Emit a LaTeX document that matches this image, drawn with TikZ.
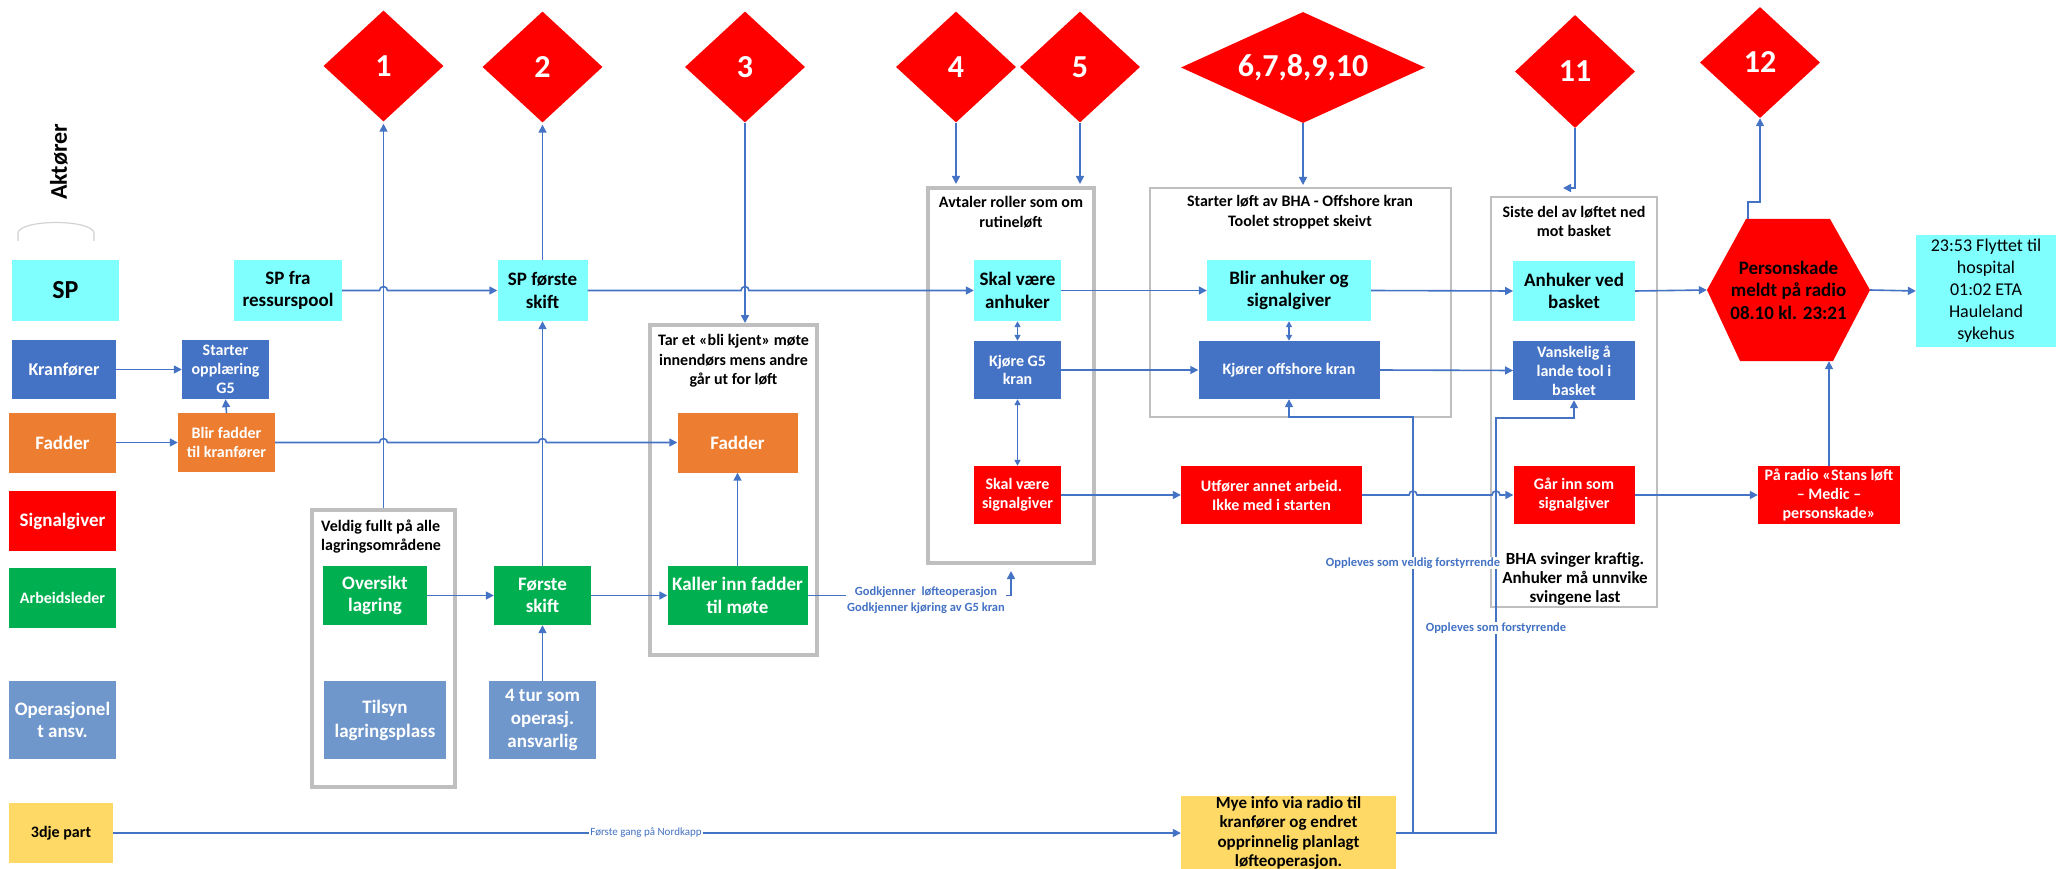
\documentclass[tikz,border=0pt]{standalone}
\usepackage{fontspec}
\setmainfont{Carlito}
\usetikzlibrary{shapes.geometric,arrows.meta,calc}
\definecolor{cy}{HTML}{80FFFF}
\definecolor{bl}{HTML}{4472C4}
\definecolor{orn}{HTML}{ED7D31}
\definecolor{rd}{HTML}{FF0000}
\definecolor{gr}{HTML}{00B050}
\definecolor{sb}{HTML}{6F97CB}
\definecolor{ye}{HTML}{FFD966}
\definecolor{gb}{HTML}{BFBFBF}
\newcommand\fsz[2]{\fontsize{#1}{#2}\selectfont}
\begin{document}
\begin{tikzpicture}[x=1pt,y=-1pt,
  bx/.style={rectangle,inner sep=0pt,align=center,font=\bfseries\fsz{19}{22.5}},
  sm/.style={font=\bfseries\fsz{16}{19}},
  wt/.style={text=white},
  dia/.style={shape=diamond,fill=rd,inner sep=0pt,text=white,font=\bfseries\fsz{32}{36},minimum width=120pt,minimum height=111pt},
  grp/.style={draw=gb,line width=4pt,rectangle,inner sep=0pt},
  grpt/.style={draw=gb,line width=2pt,rectangle,inner sep=0pt},
  ttl/.style={align=center,font=\bfseries\fsz{16}{19.5},inner sep=0pt},
  arr/.style={draw=bl,line width=1.6pt,-{Triangle[length=8pt,width=8pt]}},
  dbl/.style={draw=bl,line width=1.6pt,{Triangle[length=6pt,width=6pt]}-{Triangle[length=6pt,width=6pt]}},
  lbl/.style={text=bl,font=\bfseries\fsz{12.5}{16},align=center,fill=white,inner sep=1pt},
]
\useasboundingbox (0,0) rectangle (2056,869);
\fill[white] (0,0) rectangle (2056,869);

% group boxes
\node[grp,minimum width=143pt,minimum height=277pt] (veldig) at (383.5,648.5) {};
\node[grp,minimum width=167pt,minimum height=330pt] (box3) at (733.5,490) {};
\node[grp,minimum width=166pt,minimum height=375pt] (box45) at (1011,375.5) {};
\node[grpt,minimum width=301pt,minimum height=229pt] (box6) at (1300.5,302.5) {};
\node[grpt,minimum width=166pt,minimum height=410pt] (box11) at (1574,402) {};

% titles
\node[ttl,anchor=west,align=left] (tv) at (321,536.5) {Veldig fullt på alle\\lagringsområdene};
\node[ttl] (t3) at (733.5,361) {Tar et «bli kjent» møte\\innendørs mens andre\\går ut for løft};
\node[ttl] (t45) at (1011,212) {Avtaler roller som om\\rutineløft};
\node[ttl] (t6) at (1300,212) {Starter løft av BHA - Offshore kran\\Toolet stroppet skeivt};
\node[ttl] (t11) at (1574,221.5) {Siste del av løftet ned\\mot basket};
\node[ttl,font=\bfseries\fsz{17}{19}] (bha) at (1575,579) {BHA svinger kraftig.\\Anhuker må unnvike\\svingene last};

% left column
\node[rotate=90,font=\bfseries\fsz{24}{28}] (akt) at (59,162) {Aktører};
\draw[gb!70,line width=1.2pt] (18,241) -- (18,233) .. controls (20,219) and (92,219) .. (94,233) -- (94,241);
\node[bx,fill=cy,minimum width=107pt,minimum height=61pt,font=\bfseries\fsz{26}{30}] (sp) at (65.5,290.5) {SP};
\node[bx,wt,fill=bl,minimum width=104pt,minimum height=59pt,font=\bfseries\fsz{18}{22}] (kran) at (64,369.5) {Kranfører};
\node[bx,wt,fill=orn,minimum width=107pt,minimum height=60pt] (fadL) at (62.5,442.5) {Fadder};
\node[bx,wt,fill=rd,minimum width=107pt,minimum height=60pt] (sigL) at (62.5,521) {Signalgiver};
\node[bx,wt,fill=gr,minimum width=107pt,minimum height=60pt,sm] (arb) at (62.5,598) {Arbeidsleder};
\node[bx,wt,fill=sb,minimum width=107pt,minimum height=78pt,font=\bfseries\fsz{19}{22}] (ops) at (62.5,720) {Operasjonel\\t ansv.};
\node[bx,fill=ye,minimum width=104pt,minimum height=60pt,sm] (tre) at (61,833) {3dje part};

% column 1-2
\node[bx,fill=cy,minimum width=108pt,minimum height=61pt] (spfra) at (288,290.5) {SP fra\\ressurspool};
\node[bx,wt,fill=bl,minimum width=87pt,minimum height=59pt,sm] (starter) at (225.5,369.5) {Starter\\opplæring\\G5};
\node[bx,wt,fill=orn,minimum width=97pt,minimum height=59pt,sm] (blirf) at (226.5,442.5) {Blir fadder\\til kranfører};
\node[dia] (d1) at (383.5,66) {1};
\node[dia] (d2) at (542.5,67) {2};
\node[dia] (d3) at (745,67) {3};
\node[bx,fill=cy,minimum width=90pt,minimum height=61pt] (spf) at (542.5,290.5) {SP første\\skift};
\node[bx,wt,fill=gr,minimum width=104pt,minimum height=59pt] (over) at (375,595.5) {Oversikt\\lagring};
\node[bx,wt,fill=sb,minimum width=122pt,minimum height=78pt,font=\bfseries\fsz{19}{24}] (tilsyn) at (385,720) {Tilsyn\\lagringsplass};
\node[bx,wt,fill=gr,minimum width=97pt,minimum height=59pt] (forste) at (542.5,595.5) {Første\\skift};
\node[bx,wt,fill=sb,minimum width=107pt,minimum height=78pt,font=\bfseries\fsz{19}{23}] (fire) at (542.5,720) {4 tur som\\operasj.\\ansvarlig};
\node[bx,wt,fill=orn,minimum width=120pt,minimum height=60pt] (fadM) at (737.5,442.5) {Fadder};
\node[bx,wt,fill=gr,minimum width=140pt,minimum height=59pt] (kaller) at (737.5,595.5) {Kaller inn fadder\\til møte};

% middle
\node[dia] (d4) at (956,67) {4};
\node[dia] (d5) at (1080,67) {5};
\node[dia,minimum width=244pt,minimum height=111pt,shape aspect=2.2] (d610) at (1303,67.5) {6,7,8,9,10};
\node[bx,fill=cy,minimum width=87pt,minimum height=61pt] (anh) at (1017.5,290.5) {Skal være\\anhuker};
\node[bx,wt,fill=bl,minimum width=87pt,minimum height=58pt,font=\bfseries\fsz{16}{18.5}] (kjg5) at (1017.5,370) {Kjøre G5\\kran};
\node[bx,wt,fill=rd,minimum width=87pt,minimum height=58pt,sm] (sks) at (1017.5,495) {Skal være\\signalgiver};
\node[bx,fill=cy,minimum width=164pt,minimum height=61pt] (bliranh) at (1289,290.5) {Blir anhuker og\\signalgiver};
\node[bx,wt,fill=bl,minimum width=181pt,minimum height=58pt,sm] (kjoff) at (1289,370) {Kjører offshore kran};
\node[bx,wt,fill=rd,minimum width=181pt,minimum height=58pt,sm] (utf) at (1271.5,495) {Utfører annet arbeid.\\Ikke med i starten};
\node[bx,fill=ye,minimum width=215pt,minimum height=74pt,font=\bfseries\fsz{17}{19.3}] (mye) at (1288.5,833) {Mye info via radio til\\kranfører og endret\\opprinnelig planlagt\\løfteoperasjon.};

% right
\node[dia,minimum height=113pt] (d11) at (1575,71.5) {11};
\node[dia] (d12) at (1760,62.5) {12};
\node[bx,fill=cy,minimum width=121.5pt,minimum height=60pt] (anhb) at (1574,291) {Anhuker ved\\basket};
\node[bx,wt,fill=bl,minimum width=121.5pt,minimum height=59pt,sm] (vansk) at (1574,370.5) {Vanskelig å\\lande tool i\\basket};
\node[bx,wt,fill=rd,minimum width=121pt,minimum height=58pt,sm] (gaar) at (1574,495) {Går inn som\\signalgiver};
\node[bx,fill=white,minimum width=163pt,minimum height=142pt,
  path picture={\fill[rd] (path picture bounding box.west)
    -- ($(path picture bounding box.north west)+(39,0)$)
    -- ($(path picture bounding box.north east)+(-40,0)$)
    -- (path picture bounding box.east)
    -- ($(path picture bounding box.south east)+(-37,0)$)
    -- ($(path picture bounding box.south west)+(33,0)$) -- cycle;}] (ps) at (1788.5,290) {Personskade\\meldt på radio\\08.10 kl. 23:21};
\node[bx,fill=cy,minimum width=140pt,minimum height=112pt,font=\fsz{18}{22}] (flytt) at (1986,291) {23:53 Flyttet til\\hospital\\01:02 ETA\\Hauleland\\sykehus};
\node[bx,wt,fill=rd,minimum width=142pt,minimum height=58pt,sm] (paradio) at (1829,495) {På radio «Stans løft\\– Medic –\\personskade»};

% connectors
\draw[arr] (kran.east) -- (starter.west);
\draw[arr] (fadL.east) -- (blirf.west);
\draw[arr] (blirf.north) -- (starter.south);
\draw[arr,shorten >=2pt] (veldig.north) -- (d1.south);
\draw[arr,shorten >=2pt] (spf.north) -- (d2.south);
\draw[arr] (forste.north) -- (spf.south);
\draw[arr] (fire.north) -- (forste.south);
\draw[arr] (over.east) -- (forste.west);
\draw[arr] (forste.east) -- (kaller.west);
\draw[arr] (kaller.north) -- (fadM.south);
\draw[arr] (d3.south) -- (d3.south |- box3.north);
\draw[arr] (spfra.east) -- ($(spfra.east -| veldig.north)+(-4,0)$) arc[start angle=180,end angle=360,radius=4] -- (spf.west);
\draw[arr] (blirf.east) -- ($(blirf.east -| veldig.north)+(-4,0)$) arc[start angle=180,end angle=360,radius=4]
  -- ($(blirf.east -| forste.north)+(-4,0)$) arc[start angle=180,end angle=360,radius=4] -- (fadM.west);
\draw[arr] (spf.east) -- ($(spf.east -| d3.south)+(-4,0)$) arc[start angle=180,end angle=360,radius=4] -- (anh.west);
\draw[arr,shorten >=6pt] (kaller.east) -| (box45.south);
\node[lbl] (godk) at (926,600) {Godkjenner\ \ løfteoperasjon\\Godkjenner kjøring av G5 kran};
\draw[arr,shorten >=2pt] (d4.south) -- (d4.south |- box45.north);
\draw[arr,shorten >=2pt] (d5.south) -- (d5.south |- box45.north);
\draw[dbl] (anh.south) -- (kjg5.north);
\draw[dbl] (kjg5.south) -- (sks.north);
\draw[arr] (anh.east) -- (bliranh.west);
\draw[arr] (kjg5.east) -- (kjoff.west);
\draw[arr] (sks.east) -- (utf.west);
\draw[arr,shorten >=2pt] (d610.south) -- (d610.south |- box6.north);
\draw[dbl] (bliranh.south) -- (bliranh.south |- kjoff.north);
\draw[arr] (bliranh.east) -- (anhb.west);
\draw[arr] (kjoff.east) -- (vansk.west);
\coordinate (j1) at (1413,417);
\coordinate (j2) at (1496,418);
\draw[arr] (utf.east) -- ($(utf.east -| j1)+(-4,0)$) arc[start angle=180,end angle=360,radius=4]
  -- ($(utf.east -| j2)+(-4,0)$) arc[start angle=180,end angle=360,radius=4] -- (gaar.west);
\coordinate (c11) at (1563,188);
\draw[arr] (d11.south) |- (c11);
\draw[arr] (anhb.east) -- (ps.west);
\draw[arr] ($(ps.north west)+(41,0)$) |- ($(d12.south)+(0,84)$) -- (d12.south);
\draw[arr] (ps.east) -- (flytt.west);
\draw[arr] (gaar.east) -- (paradio.west);
\draw[arr] (paradio.north) -- (paradio.north |- ps.south);
\draw[arr] (tre.east) -- (mye.west);
\node[lbl,font=\fsz{11}{13}] (nk) at (646,833) {Første gang på Nordkapp};
\draw[arr] (mye.east) -| (j1) -| (kjoff.south);
\draw[arr] (mye.east) -| (j2) -| (vansk.south);
\node[lbl] (op1) at (1413,563) {Oppleves som veldig forstyrrende};
\node[lbl] (op2) at (1496,628) {Oppleves som forstyrrende};
\end{tikzpicture}
\end{document}
